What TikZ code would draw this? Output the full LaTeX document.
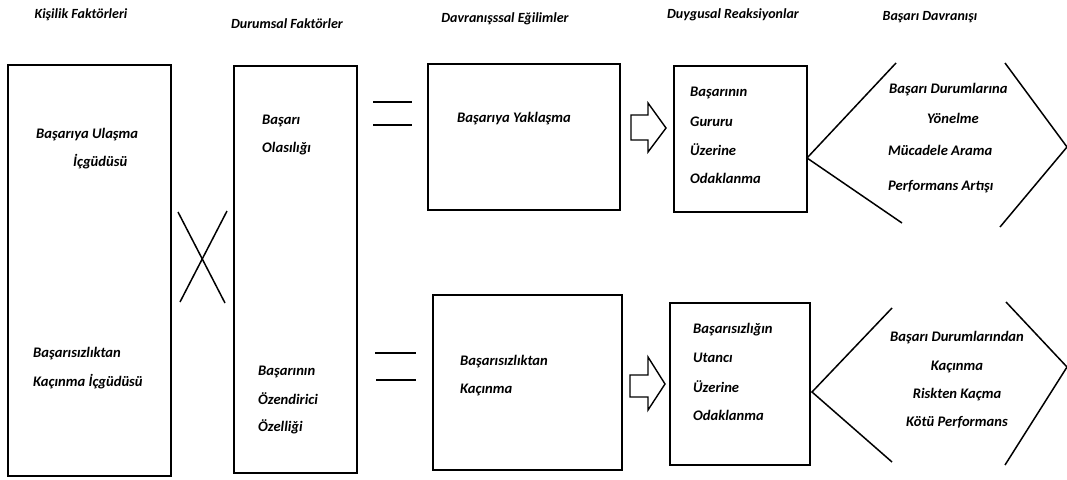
\documentclass[tikz,border=0pt]{standalone}
\usepackage{fontspec}
\setmainfont{Carlito}
\begin{document}
\begin{tikzpicture}[x=1pt,y=-1pt,
  lbl/.style={font=\fontsize{14.6}{16}\selectfont\bfseries\itshape, inner sep=0pt, anchor=west},
  ttl/.style={font=\fontsize{14}{16}\selectfont\bfseries\itshape, inner sep=0pt},
  ctr/.style={font=\fontsize{14.6}{16}\selectfont\bfseries\itshape, inner sep=0pt},
  boxx/.style={draw, line width=2pt},
  ln/.style={line width=1.5pt},
  barrow/.style={draw, line width=1.4pt, line join=miter}]
\useasboundingbox (0,0) rectangle (1067,479);
% titles
\node[ttl] (t1) at (81,15) {Kişilik Faktörleri};
\node[ttl] (t2) at (287,24) {Durumsal Faktörler};
\node[ttl] (t3) at (505,19) {Davranışssal Eğilimler};
\node[ttl] (t4) at (733,15) {Duygusal Reaksiyonlar};
\node[ttl] (t5) at (930,17) {Başarı Davranışı};
% column 1
\draw[boxx] (8,65) rectangle (171,476);
\node[lbl] (a1) at (36,135) {Başarıya Ulaşma};
\node[lbl] (a2) at (73,162) {İçgüdüsü};
\node[lbl] (a3) at (33,354) {Başarısızlıktan};
\node[lbl] (a4) at (33,382) {Kaçınma İçgüdüsü};
% X
\draw[ln] (178,212) -- (225,303);
\draw[ln] (227,211) -- (180,302);
% column 2
\draw[boxx] (234,66) rectangle (357,473);
\node[lbl] (b1) at (262,121) {Başarı};
\node[lbl] (b2) at (262,149) {Olasılığı};
\node[lbl] (b3) at (258,372) {Başarının};
\node[lbl] (b4) at (258,399) {Özendirici};
\node[lbl] (b5) at (258,427) {Özelliği};
% equals
\draw[ln] (373,102) -- (412,102);
\draw[ln] (373,125) -- (412,125);
\draw[ln] (375,353) -- (416,353);
\draw[ln] (376,380) -- (416,380);
% column 3
\draw[boxx] (428,64) rectangle (620,210);
\node[lbl] (c1) at (457,119) {Başarıya Yaklaşma};
\draw[boxx] (433,295) rectangle (622,470);
\node[lbl] (c2) at (460,362) {Başarısızlıktan};
\node[lbl] (c3) at (460,390) {Kaçınma};
% block arrows
\draw[barrow] (631,115) -- (648,115) -- (648,103) -- (666,128) -- (648,152) -- (648,140) -- (631,140) -- cycle;
\draw[barrow] (630,375) -- (648,375) -- (648,357) -- (665,384) -- (648,410) -- (648,397) -- (630,397) -- cycle;
% column 4
\draw[boxx] (674,66) rectangle (807,212);
\node[lbl] (d1) at (690,93) {Başarının};
\node[lbl] (d2) at (690,122) {Gururu};
\node[lbl] (d3) at (690,150) {Üzerine};
\node[lbl] (d4) at (690,178) {Odaklanma};
\draw[boxx] (670,303) rectangle (810,465);
\node[lbl] (e1) at (693,330) {Başarısızlığın};
\node[lbl] (e2) at (693,358) {Utancı};
\node[lbl] (e3) at (693,387) {Üzerine};
\node[lbl] (e4) at (693,415) {Odaklanma};
% chevrons
\draw[ln] (896,63) -- (807,158) -- (902,223);
\draw[ln] (1005,63) -- (1067,147) -- (1000,227);
\node[lbl] (f1) at (889,90) {Başarı Durumlarına};
\node[ctr] (f2) at (953,118) {Yönelme};
\node[lbl] (f3) at (888,150) {Mücadele Arama};
\node[lbl] (f4) at (888,187) {Performans Artışı};
\draw[ln] (892,308) -- (812,392) -- (892,462);
\draw[ln] (1006,302) -- (1067,367) -- (1005,465);
\node[ctr] (g1) at (957,338) {Başarı Durumlarından};
\node[ctr] (g2) at (957,367) {Kaçınma};
\node[ctr] (g3) at (957,395) {Riskten Kaçma};
\node[ctr] (g4) at (957,422) {Kötü Performans};
\end{tikzpicture}
\end{document}
